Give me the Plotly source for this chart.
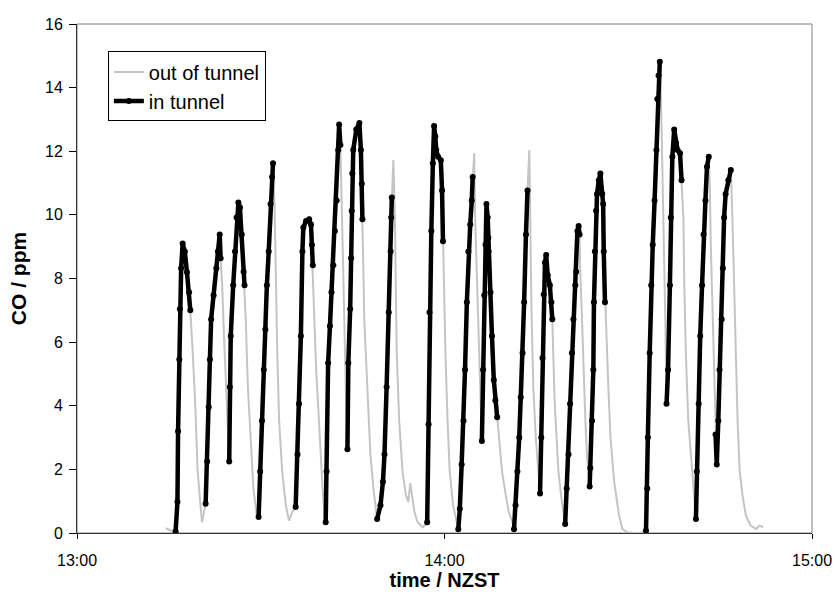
import pandas as pd
import plotly.graph_objects as go

# minutes after 13:00, CO in ppm, flag 1 = in tunnel
minutes = [
    14.5, 15.3,
    16.1, 16.4, 16.5, 16.7, 16.8, 17.0, 17.25, 17.6, 17.95, 18.3, 18.5,
    18.9, 19.3, 19.7, 20.1, 20.4,
    21.0, 21.25, 21.5, 21.7, 21.9, 22.3, 22.75, 23.0, 23.3, 23.45,
    23.7, 24.0, 24.4, 24.7,
    24.85, 24.95, 25.1, 25.5, 25.8, 26.05, 26.35, 26.6, 26.9, 27.2, 27.35,
    27.55, 27.9, 28.3, 28.8, 29.35,
    29.65, 29.9, 30.2, 30.5, 30.75, 31.0, 31.3, 31.6, 31.85, 32.0,
    32.25, 32.4, 32.7, 33.0, 33.5, 34.1, 34.6, 35.15,
    35.7, 36.0, 36.25, 36.55, 36.8, 36.95, 37.4, 37.9, 38.2, 38.35, 38.5,
    38.65, 39.05, 39.6, 40.1, 40.45,
    40.6, 40.75, 41.0, 41.3, 41.55, 41.85, 42.1, 42.4, 42.65, 42.8, 43.0,
    43.2, 43.5, 43.75, 44.0,
    44.15, 44.3, 44.6, 44.75, 44.85, 44.95, 45.1, 45.6, 46.1, 46.35, 46.5, 46.6,
    46.7, 46.9, 47.35, 47.9, 48.45, 48.9,
    49.0, 49.55, 49.95, 50.2, 50.55, 50.9, 51.2, 51.3, 51.4,
    51.65, 51.9, 52.0, 52.2, 52.6, 53.15, 53.7, 54.1, 54.4, 54.65, 55.1, 55.6, 56.45, 57.0,
    57.17, 57.4, 57.55, 57.85, 58.1, 58.3, 58.5, 58.65, 58.95, 59.4, 59.6, 59.75,
    59.95, 60.15, 60.5, 60.85, 61.4, 61.95,
    62.25, 62.5, 62.8, 63.1, 63.35, 63.65, 63.9, 64.2, 64.45, 64.6,
    64.85, 65.0, 65.3, 65.7, 65.95,
    66.1, 66.3, 66.5, 66.7, 66.85, 67.05, 67.15, 67.2, 67.5, 67.75, 68.05, 68.3, 68.6,
    68.9, 69.4, 70.0, 70.5, 71.1,
    71.35, 71.6, 71.9, 72.2, 72.45, 72.75, 73.0, 73.3, 73.55,
    73.85, 74.0, 74.2, 74.5, 74.9, 75.3,
    75.6, 75.8, 76.0, 76.2, 76.4, 76.6, 76.85, 77.2, 77.45, 77.6,
    77.75, 78.0, 78.3, 78.6, 79.1, 79.5,
    79.7, 79.95, 80.25, 80.5, 80.8, 81.05, 81.35, 81.5, 81.7, 81.9, 82.05,
    82.15, 82.45, 82.7, 83.0, 83.25,
    83.7, 83.8, 84.1, 84.3, 84.4, 84.55, 84.75, 84.9, 85.2, 85.45, 85.75, 85.9, 86.0, 86.2,
    86.45, 86.75, 87.1, 87.7, 88.5, 89.05, 89.9, 91.0, 92.0,
    92.9, 93.1, 93.2, 93.5, 93.75, 94.0, 94.3, 94.6, 94.75, 94.95, 95.15,
    95.4, 95.65, 95.85, 96.05,
    96.25, 96.5, 96.8, 96.95, 97.2, 97.5, 97.8, 98.05, 98.45, 98.7,
    99.0, 99.15, 99.4, 99.8, 100.4, 100.95,
    101.05, 101.2, 101.5, 101.75, 102.05, 102.3, 102.6, 102.85, 103.15,
    103.3, 103.5, 103.8, 104.1,
    104.25, 104.45, 104.7, 104.9, 105.25, 105.45, 105.65, 105.9, 106.35, 106.75,
    107.0, 107.3, 107.55, 107.85, 108.2, 108.65, 109.2, 110.0, 110.85, 111.4, 112.0,
]

co_ppm = [
    0.15, 0.08,
    0.05, 0.98, 3.2, 5.45, 7.04, 8.32, 9.1, 8.85, 8.2, 7.57, 7.0,
    5.66, 4.06, 1.93, 0.98, 0.34,
    0.92, 2.25, 3.96, 5.45, 6.72, 7.47, 8.32, 8.85, 9.38, 8.64,
    7.79, 6.19, 4.06, 2.47,
    2.25, 4.59, 6.19, 7.79, 8.85, 9.92, 10.39, 10.23, 9.38, 8.21, 7.79,
    6.72, 4.59, 3.0, 1.40, 0.55,
    0.5, 1.93, 3.53, 5.13, 6.4, 7.79, 8.85, 10.34, 11.19, 11.62,
    10.34, 8.32, 5.66, 3.53, 1.93, 0.87, 0.39, 0.66,
    0.82, 2.47, 4.06, 6.19, 8.85, 9.6, 9.81, 9.86, 9.7, 9.06, 8.42,
    7.25, 5.13, 3.0, 1.4, 0.5,
    0.34, 1.93, 5.34, 6.51, 7.57, 8.42, 9.49, 10.45, 12.04, 12.84, 12.2,
    10.34, 7.79, 5.66, 3.6,
    2.63, 5.34, 7.04, 8.64, 10.13, 11.3, 12.04, 12.68, 12.89, 12.04, 10.98, 9.86,
    8.85, 6.72, 4.59, 2.47, 1.3, 0.55,
    0.44, 0.87, 1.61, 2.47, 4.59, 6.94, 8.85, 9.92, 10.55,
    11.72, 9.92, 7.79, 5.66, 3.53, 1.93, 1.19, 0.98, 1.56, 1.19, 0.66, 0.34, 0.18, 0.28,
    0.34, 3.42, 6.94, 9.49, 11.62, 12.79, 12.47, 12.04, 11.83, 11.72, 10.77, 9.17,
    7.79, 5.66, 3.53, 1.93, 0.87, 0.34,
    0.12, 0.76, 2.15, 3.53, 5.13, 7.25, 8.85, 9.7, 10.45, 11.19,
    11.94, 9.92, 7.79, 5.13, 3.8,
    2.89, 5.13, 7.47, 9.06, 10.34, 9.92, 9.28, 8.85, 7.57, 6.19, 4.81, 4.17, 3.64,
    3.0, 1.93, 1.19, 0.66, 0.34,
    0.12, 0.87, 1.93, 3.0, 4.27, 5.66, 7.25, 9.38, 10.77,
    12.04, 9.92, 7.0, 4.59, 3.0, 2.0,
    1.24, 3.0, 5.5, 7.5, 8.5, 8.74, 8.11, 7.79, 7.25, 6.72,
    5.66, 4.06, 3.0, 1.93, 1.08, 0.44,
    0.28, 1.40, 2.47, 4.06, 5.66, 6.72, 7.79, 8.21, 9.49, 9.65, 9.38,
    8.32, 6.72, 5.13, 3.53, 2.47,
    1.46, 2.04, 3.53, 5.13, 7.25, 8.85, 10.13, 10.66, 11.09, 11.3, 10.66, 10.34, 8.85, 7.25,
    6.19, 4.59, 3.0, 1.61, 0.55, 0.12, 0.02, 0.0, 0.0,
    0.07, 1.40, 3.0, 5.66, 7.79, 9.06, 10.45, 12.04, 13.64, 14.38, 14.81,
    13.11, 10.98, 8.85, 6.72,
    4.06, 5.13, 7.79, 9.92, 11.83, 12.68, 12.26, 12.04, 11.94, 11.09,
    9.92, 7.79, 5.66, 3.53, 1.93, 0.66,
    0.44, 1.93, 4.06, 6.19, 7.79, 9.38, 10.45, 11.51, 11.83,
    10.98, 8.85, 6.72, 4.59,
    3.1, 2.15, 3.53, 5.13, 6.72, 8.32, 9.92, 10.66, 11.09, 11.41,
    9.92, 7.79, 5.66, 3.53, 1.93, 1.19, 0.55, 0.23, 0.12, 0.23, 0.18,
]

in_tunnel = (
    [0] * 2 + [1] * 11 + [0] * 5 + [1] * 10 + [0] * 4 + [1] * 11 + [0] * 5
    + [1] * 10 + [0] * 8 + [1] * 11 + [0] * 5 + [1] * 11 + [0] * 4 + [1] * 12
    + [0] * 6 + [1] * 9 + [0] * 14 + [1] * 12 + [0] * 6 + [1] * 10 + [0] * 5
    + [1] * 13 + [0] * 5 + [1] * 9 + [0] * 6 + [1] * 10 + [0] * 6 + [1] * 11
    + [0] * 5 + [1] * 14 + [0] * 9 + [1] * 11 + [0] * 4 + [1] * 10 + [0] * 6
    + [1] * 9 + [0] * 4 + [1] * 10 + [0] * 11
)

x_ticks = ["13:00", "14:00", "15:00"]
y_ticks = [0, 2, 4, 6, 8, 10, 12, 14, 16]

base = pd.Timestamp("2000-01-01 13:00")
times = [base + pd.Timedelta(minutes=m) for m in minutes]

# in-tunnel segments, broken where the flag is off
tx, ty = [], []
prev = 0
for t, v, f in zip(times, co_ppm, in_tunnel):
    if f:
        if not prev and tx:
            tx.append(None)
            ty.append(None)
        tx.append(t)
        ty.append(v)
    prev = f

FONT = "Liberation Sans, Arial, sans-serif"

fig = go.Figure()
fig.add_trace(go.Scatter(
    x=times, y=co_ppm, mode="lines", name="out of tunnel",
    line=dict(color="#c4c4c4", width=2), legendgroup="a",
))
fig.add_trace(go.Scatter(
    x=tx, y=ty, mode="lines+markers", name="in tunnel",
    line=dict(color="black", width=4.5), marker=dict(color="black", size=6),
    connectgaps=False, legendgroup="b",
))

tickvals = [pd.Timestamp("2000-01-01 " + s) for s in x_ticks]

fig.update_layout(
    width=837, height=594,
    margin=dict(l=77, r=25, t=24, b=61),
    paper_bgcolor="white", plot_bgcolor="white",
    font=dict(family=FONT, size=16, color="black"),
    showlegend=True,
    legend=dict(
        x=0.042, y=0.946, xanchor="left", yanchor="top",
        bgcolor="white", bordercolor="black", borderwidth=1,
        font=dict(size=20, family=FONT), traceorder="grouped", tracegroupgap=0,
    ),
    shapes=[dict(type="rect", xref="paper", yref="paper", x0=0, x1=1, y0=0, y1=1,
                 line=dict(color="#808080", width=1), layer="below")],
)
fig.update_xaxes(
    type="date", range=[tickvals[0], tickvals[-1]],
    tickvals=tickvals, ticktext=x_ticks, automargin=False,
    ticks="outside", ticklen=5, tickcolor="black", ticklabelstandoff=8,
    showline=True, linecolor="#333333", linewidth=1, showgrid=False, zeroline=False,
    tickfont=dict(size=16),
    title=dict(text="<b>time / NZST</b>", font=dict(size=20), standoff=4),
)
fig.update_yaxes(
    range=[0, 16], tickvals=y_ticks, automargin=False,
    ticks="outside", ticklen=7, tickcolor="black", ticklabelstandoff=3,
    showline=True, linecolor="#333333", linewidth=1, showgrid=False, zeroline=False,
    tickfont=dict(size=16),
    title=dict(text="<b>CO / ppm</b>", font=dict(size=21), standoff=12),
)

fig.write_html("out.html")
